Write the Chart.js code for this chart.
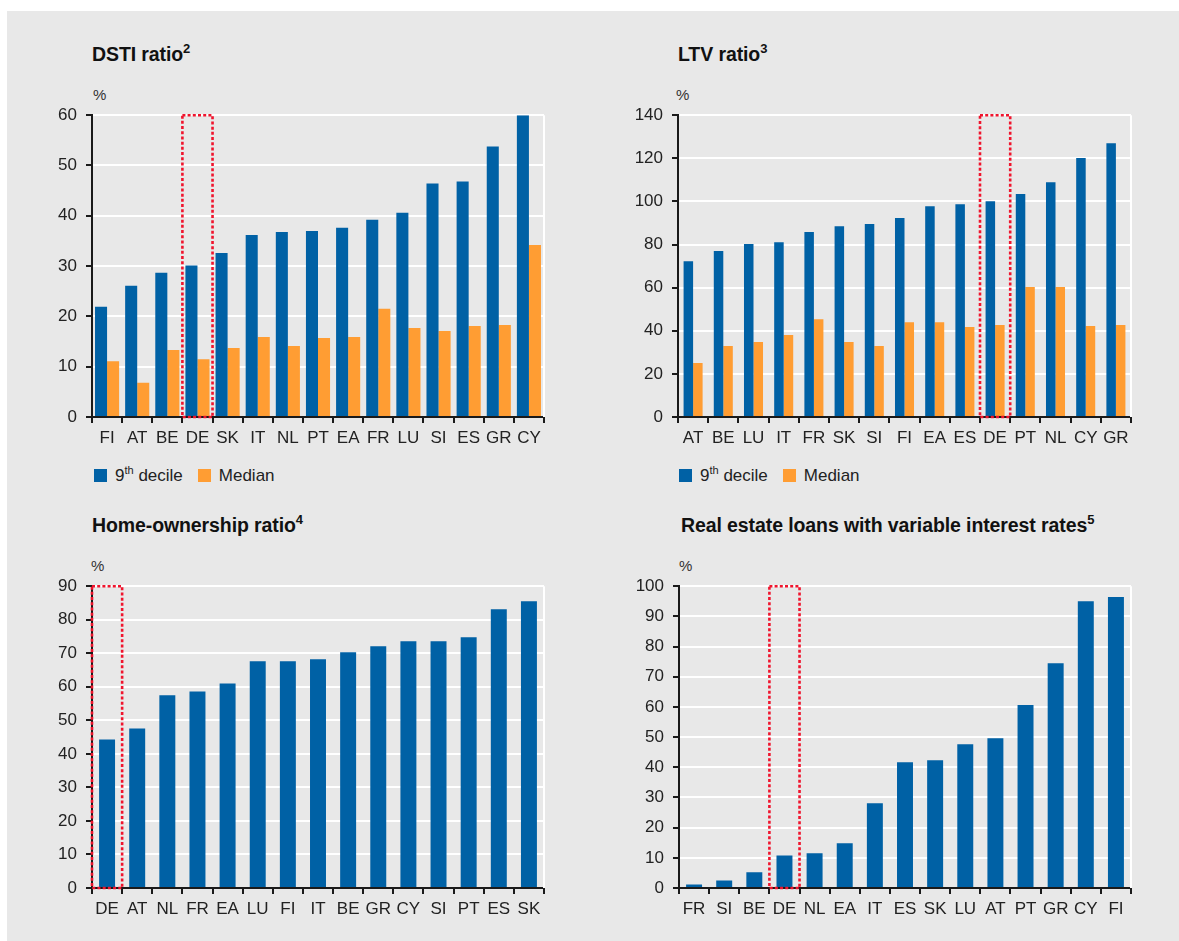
<!DOCTYPE html>
<html>
<head>
<meta charset="utf-8">
<script src="https://cdn.jsdelivr.net/npm/chart.js@4"></script>
<style>
body{margin:0;background:#fff;font-family:"Liberation Sans",Arial,sans-serif;}
#wrap{position:relative;width:1179px;height:941px;overflow:hidden;}
#panel{position:absolute;left:7px;top:11px;right:0;bottom:0;background:#e8e8e8;}
canvas{position:absolute;}
.title{position:absolute;font-weight:bold;font-size:19.5px;line-height:20px;color:#111;white-space:nowrap;letter-spacing:-0.1px}
.title sup{font-size:13px;line-height:0;position:relative;top:-1px;vertical-align:super}
.unit{position:absolute;font-size:15px;line-height:15px;color:#333}
.legend{position:absolute;display:flex;align-items:flex-start;font-size:17px;line-height:16px;color:#222}
.legend .box{width:13px;height:13px;margin-top:1px;margin-right:8px}
.legend sup{font-size:11px;line-height:0;vertical-align:super}
</style>
</head>
<body>
<div id="wrap">
  <div id="panel"></div>

  <div class="title" style="left:92px;top:44px">DSTI ratio<sup>2</sup></div>
  <div class="title" style="left:678px;top:44px">LTV ratio<sup>3</sup></div>
  <div class="title" style="left:92px;top:515px">Home-ownership ratio<sup>4</sup></div>
  <div class="title" style="left:681px;top:515px">Real estate loans with variable interest rates<sup>5</sup></div>

  <div class="unit" style="left:93px;top:87px">%</div>
  <div class="unit" style="left:676px;top:87px">%</div>
  <div class="unit" style="left:91px;top:558px">%</div>
  <div class="unit" style="left:679px;top:558px">%</div>

  <canvas id="c1" width="510" height="351" style="left:40px;top:96px"></canvas>
  <canvas id="c2" width="511" height="351" style="left:626px;top:96px"></canvas>
  <canvas id="c3" width="510" height="351" style="left:40px;top:567px"></canvas>
  <canvas id="c4" width="510" height="351" style="left:627px;top:567px"></canvas>

  <div class="legend" style="left:94px;top:468px">
    <div class="box" style="background:#0061a5"></div><span>9<sup>th</sup> decile</span>
    <div class="box" style="background:#ff9d33;margin-left:15px"></div><span>Median</span>
  </div>
  <div class="legend" style="left:679px;top:468px">
    <div class="box" style="background:#0061a5"></div><span>9<sup>th</sup> decile</span>
    <div class="box" style="background:#ff9d33;margin-left:15px"></div><span>Median</span>
  </div>
</div>

<script>
// データ
const dstiLabels = ["FI","AT","BE","DE","SK","IT","NL","PT","EA","FR","LU","SI","ES","GR","CY"]
const dstiDecile = [21.9,26.1,28.7,30.1,32.6,36.2,36.8,37.0,37.6,39.2,40.6,46.4,46.8,53.8,60]
const dstiMedian = [11.1,6.8,13.3,11.5,13.7,15.9,14.1,15.7,15.9,21.5,17.7,17.1,18.1,18.3,34.2]

const ltvLabels = ["AT","BE","LU","IT","FR","SK","SI","FI","EA","ES","DE","PT","NL","CY","GR"]
const ltvDecile = [72.3,77.0,80.2,81.1,85.8,88.5,89.5,92.3,97.8,98.7,100.1,103.4,108.9,120.1,127.0]
const ltvMedian = [25.0,32.9,34.8,38.0,45.4,34.8,32.9,44.0,44.0,41.7,42.7,60.3,60.3,42.2,42.7]

const homeLabels = ["DE","AT","NL","FR","EA","LU","FI","IT","BE","GR","CY","SI","PT","ES","SK"]
const homeValues = [44.3,47.6,57.5,58.6,61.0,67.6,67.6,68.2,70.3,72.1,73.6,73.6,74.8,83.1,85.5]

const varLabels = ["FR","SI","BE","DE","NL","EA","IT","ES","SK","LU","AT","PT","GR","CY","FI"]
const varValues = [1.2,2.5,5.2,10.8,11.5,14.8,28.1,41.7,42.3,47.6,49.6,60.6,74.5,95.0,96.4]

const BLUE = '#0061a5'
const ORANGE = '#ff9d33'
const AXIS = '#1a1a1a'
const FONT = {family: '"Liberation Sans", Arial, sans-serif', size: 17}

// 赤い点線の枠とプロット右端の白線
const framePlugin = {
    id: 'frame',
    beforeDatasetsDraw(chart){
        const a = chart.chartArea
        const ctx = chart.ctx
        ctx.save()
        ctx.strokeStyle = '#ffffff'
        ctx.lineWidth = 2
        ctx.beginPath()
        ctx.moveTo(a.right, a.top)
        ctx.lineTo(a.right, a.bottom)
        ctx.stroke()
        ctx.restore()
    },
    afterDatasetsDraw(chart, args, opts){
        const x = chart.scales.x
        const labels = chart.data.labels
        const i = labels.indexOf(opts.label)
        if(i < 0) return
        const half = (x.getPixelForValue(1) - x.getPixelForValue(0)) / 2
        const cx = x.getPixelForValue(i)
        const a = chart.chartArea
        const ctx = chart.ctx
        ctx.save()
        ctx.strokeStyle = '#f0142d'
        ctx.lineWidth = 2.6
        ctx.setLineDash([3, 2.2])
        ctx.strokeRect(cx - half, a.top, half * 2, a.bottom - a.top)
        ctx.restore()
    }
}

function makeChart(id, labels, datasets, max, step){
    return new Chart(document.getElementById(id), {
        type: 'bar',
        data: {labels: labels, datasets: datasets},
        options: {
            responsive: false,
            animation: false,
            devicePixelRatio: 1,
            layout: {padding: {top: 10, right: 6, bottom: 0, left: 0}},
            plugins: {
                legend: {display: false},
                tooltip: {enabled: false},
                frame: {label: 'DE'}
            },
            scales: {
                x: {
                    grid: {
                        offset: true,
                        drawOnChartArea: false,
                        tickColor: AXIS,
                        tickLength: 6,
                        lineWidth: 2
                    },
                    border: {color: AXIS, width: 2},
                    ticks: {font: FONT, color: '#222', padding: 5, maxRotation: 0, autoSkip: false},
                    afterFit: s => { s.height = 30 }
                },
                y: {
                    min: 0,
                    max: max,
                    ticks: {stepSize: step, font: FONT, color: '#222', padding: 9},
                    grid: {color: '#ffffff', lineWidth: 2, tickColor: AXIS, tickLength: 6},
                    border: {color: AXIS, width: 2},
                    afterFit: s => { s.width = 52 }
                }
            }
        },
        plugins: [framePlugin]
    })
}

makeChart('c1', dstiLabels, [
    {label: '9th decile', data: dstiDecile, backgroundColor: BLUE, categoryPercentage: 0.8, barPercentage: 1},
    {label: 'Median', data: dstiMedian, backgroundColor: ORANGE, categoryPercentage: 0.8, barPercentage: 1}
], 60, 10)

makeChart('c2', ltvLabels, [
    {label: '9th decile', data: ltvDecile, backgroundColor: BLUE, categoryPercentage: 0.63, barPercentage: 1},
    {label: 'Median', data: ltvMedian, backgroundColor: ORANGE, categoryPercentage: 0.63, barPercentage: 1}
], 140, 20)

makeChart('c3', homeLabels, [
    {label: 'Home-ownership ratio', data: homeValues, backgroundColor: BLUE, categoryPercentage: 1, barPercentage: 0.53}
], 90, 10)

makeChart('c4', varLabels, [
    {label: 'Variable rate loans', data: varValues, backgroundColor: BLUE, categoryPercentage: 1, barPercentage: 0.53}
], 100, 10)
</script>
</body>
</html>
